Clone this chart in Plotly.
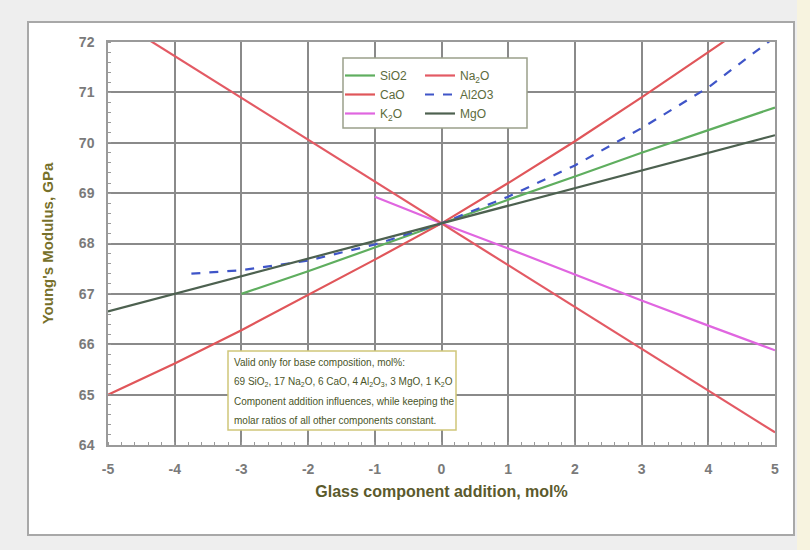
import plotly.graph_objects as go

# Composition change (mol%) and resulting Young's modulus (GPa)
x_full = [-5, -4, -3, -2, -1, 0, 1, 2, 3, 4, 5]

na2o = [72.55, 71.72, 70.89, 70.06, 69.23, 68.40, 67.57, 66.74, 65.91, 65.08, 64.25]
cao = [65.00, 65.62, 66.28, 66.98, 67.68, 68.40, 69.20, 70.03, 70.90, 71.80, 72.70]
mgo_x = x_full
mgo = [66.65, 67.00, 67.36, 67.70, 68.05, 68.40, 68.75, 69.10, 69.45, 69.80, 70.15]
sio2_x = [-3, -2, -1, 0, 1, 2, 3, 4, 5]
sio2 = [67.00, 67.45, 67.92, 68.40, 68.87, 69.33, 69.80, 70.25, 70.70]
al2o3_x = [-3.75, -3, -2, -1, 0, 1, 2, 3, 4, 5]
al2o3 = [67.40, 67.47, 67.66, 67.98, 68.40, 68.93, 69.55, 70.29, 71.10, 72.10]
k2o_x = [-1, 0, 1, 2, 3, 4, 5]
k2o = [68.93, 68.40, 67.90, 67.38, 66.87, 66.37, 65.88]

x_ticks = [-5, -4, -3, -2, -1, 0, 1, 2, 3, 4, 5]
y_ticks = [64, 65, 66, 67, 68, 69, 70, 71, 72]

note_lines = [
    "Valid only for base composition, mol%:",
    "69 SiO<sub>2</sub>, 17 Na<sub>2</sub>O, 6 CaO, 4 Al<sub>2</sub>O<sub>3</sub>, 3 MgO, 1 K<sub>2</sub>O",
    "Component addition influences, while keeping the",
    "molar ratios of all other components constant.",
]

FONT = "Liberation Sans, Arial, sans-serif"
W, H = 810, 550
L, R, T, B = 108, 35, 42, 105
pw, ph = W - L - R, H - T - B


def px(xp):
    return (xp - L) / pw


def py(yp):
    return 1 - (yp - T) / ph


fig = go.Figure()

series = [
    ("SiO2", sio2_x, sio2, "#5fae5f", "solid", "legend"),
    ("CaO", x_full, cao, "#e0565a", "solid", "legend"),
    ("K<sub>2</sub>O", k2o_x, k2o, "#e066e0", "solid", "legend"),
    ("Na<sub>2</sub>O", x_full, na2o, "#e35a64", "solid", "legend2"),
    ("Al2O3", al2o3_x, al2o3, "#3f55c8", "dash", "legend2"),
    ("MgO", mgo_x, mgo, "#4d6150", "solid", "legend2"),
]
for name, xs, ys, color, dash, leg in series:
    fig.add_trace(go.Scatter(
        x=xs, y=ys, name=name, mode="lines",
        line=dict(color=color, width=2.2, dash=dash),
        legend=leg,
    ))

shapes = [
    # outer panel
    dict(type="rect", xref="paper", yref="paper",
         x0=px(28), x1=px(794), y0=py(535), y1=py(22),
         fillcolor="white", line=dict(color="#a8a8a8", width=2), layer="below"),
    # right strip
    dict(type="rect", xref="paper", yref="paper",
         x0=px(797), x1=px(812), y0=py(560), y1=py(-10),
         fillcolor="#f7f3df", line=dict(width=0), layer="below"),
    # legend frame
    dict(type="rect", xref="paper", yref="paper",
         x0=px(343), x1=px(527), y0=py(128), y1=py(58),
         fillcolor="white", line=dict(color="#9aa08a", width=1.5), layer="above"),
    # note frame
    dict(type="rect", xref="paper", yref="paper",
         x0=px(228), x1=px(456), y0=py(430), y1=py(351),
         fillcolor="white", line=dict(color="#cfc67a", width=1.5), layer="above"),
]

annotations = []
for i, line in enumerate(note_lines):
    annotations.append(dict(
        xref="paper", yref="paper", x=px(232), y=py(362 + i * 19.5),
        xanchor="left", yanchor="middle", text=line, showarrow=False,
        font=dict(family=FONT, size=10, color="#4a5528"),
    ))

axis_common = dict(
    showgrid=True, gridcolor="#8a8a8a", gridwidth=1.5,
    zeroline=False, showline=True, linecolor="#9a9a9a", linewidth=1.5,
    mirror=True, ticks="", tickfont=dict(family=FONT, size=14, color="#7a7a7a", weight="bold"),
)

fig.update_layout(
    width=W, height=H,
    margin=dict(l=L, r=R, t=T, b=B),
    paper_bgcolor="#eeeeee", plot_bgcolor="white",
    font=dict(family=FONT),
    xaxis=dict(
        range=[-5, 5], tickvals=x_ticks, ticktext=[str(v) for v in x_ticks],
        ticklabelstandoff=10,
        title=dict(text="Glass component addition, mol%", standoff=10,
                   font=dict(family=FONT, size=16, color="#5b5a2c", weight="bold")),
        minor=dict(ticks="inside", ticklen=3, dtick=0.2, tickcolor="#9a9a9a", showgrid=False),
        **axis_common,
    ),
    yaxis=dict(
        range=[64, 72], tickvals=y_ticks, ticktext=[str(v) for v in y_ticks],
        ticklabelstandoff=9,
        title=dict(text="Young's Modulus, GPa", standoff=22,
                   font=dict(family=FONT, size=15, color="#77702a", weight="bold")),
        minor=dict(ticks="inside", ticklen=3, dtick=0.2, tickcolor="#9a9a9a", showgrid=False),
        **axis_common,
    ),
    legend=dict(x=px(340), y=py(61), xanchor="left", yanchor="top",
                bgcolor="rgba(0,0,0,0)", borderwidth=0, tracegroupgap=0,
                itemwidth=30, font=dict(family=FONT, size=12, color="#5c6b3c")),
    legend2=dict(x=px(420), y=py(61), xanchor="left", yanchor="top",
                 bgcolor="rgba(0,0,0,0)", borderwidth=0, tracegroupgap=0,
                 itemwidth=30, font=dict(family=FONT, size=12, color="#5c6b3c")),
    shapes=shapes,
    annotations=annotations,
    showlegend=True,
)

fig.write_html("out.html")
